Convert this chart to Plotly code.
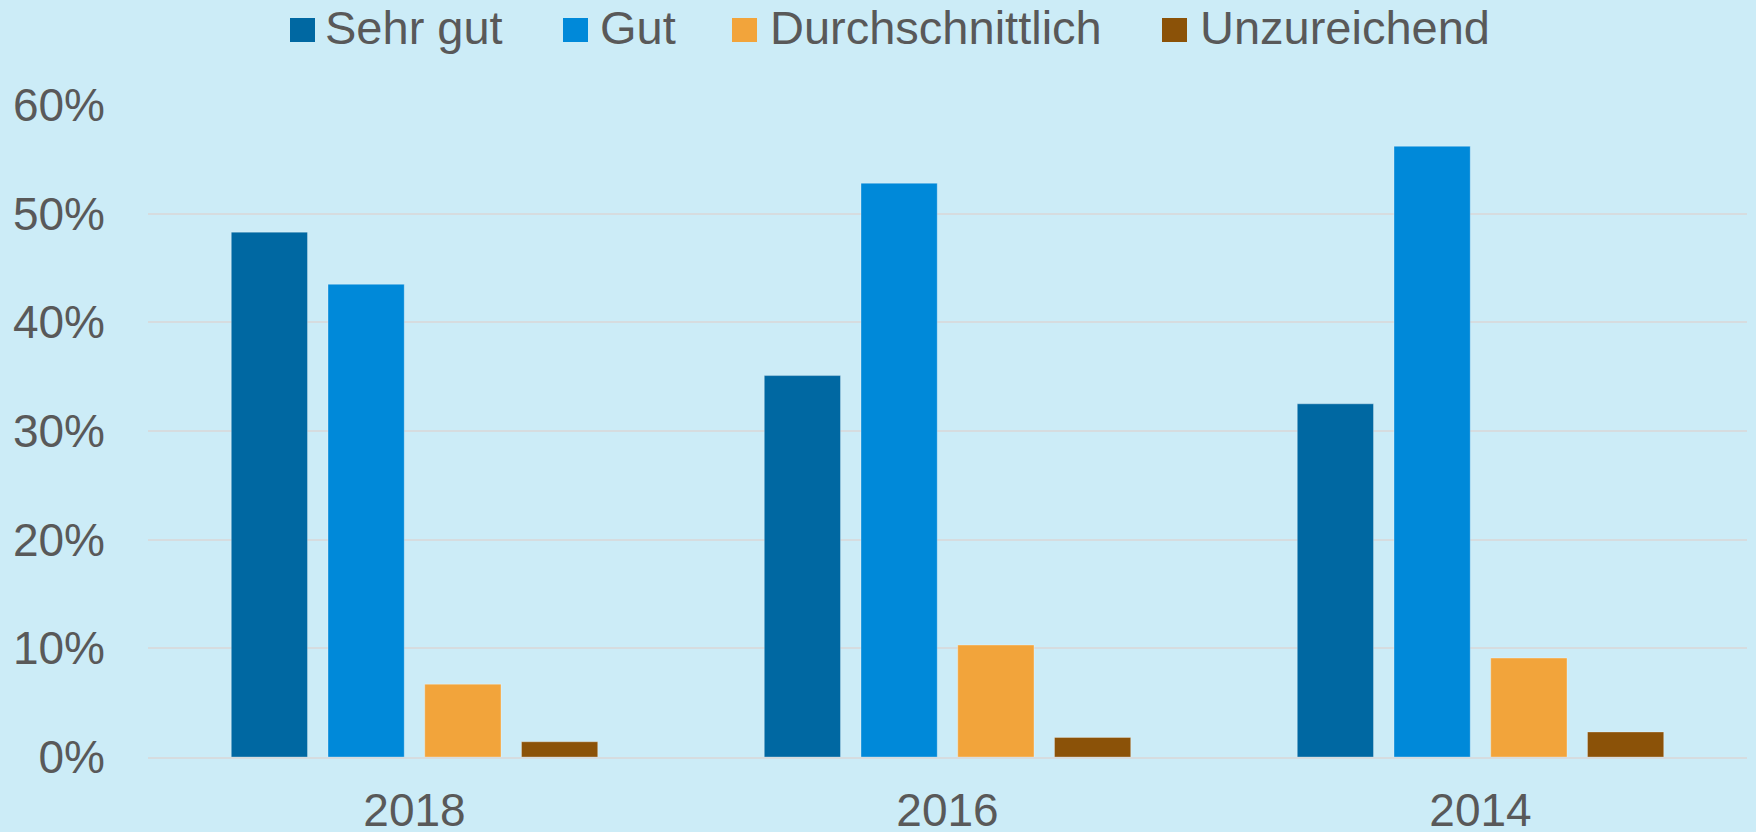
import plotly.graph_objects as go

# ---- data ----
years = ["2018", "2016", "2014"]
series_names = ["Sehr gut", "Gut", "Durchschnittlich", "Unzureichend"]
sehr_gut = [0.483, 0.351, 0.325]
gut = [0.435, 0.528, 0.562]
durchschnittlich = [0.067, 0.103, 0.091]
unzureichend = [0.014, 0.018, 0.023]
y_ticks = [0, 0.1, 0.2, 0.3, 0.4, 0.5, 0.6]

colors = ["#0068A2", "#0089D9", "#F2A43B", "#8B5208"]
values = [sehr_gut, gut, durchschnittlich, unzureichend]

W, H = 1756, 832
ML, MR, MT, MB = 148, 9, 105, 75
PW, PH = W - ML - MR, H - MT - MB

def px_x(px):
    return (px - ML) / PW

def px_y(py):
    return (H - MB - py) / PH

fig = go.Figure()
for name, vals, col in zip(series_names, values, colors):
    fig.add_trace(go.Bar(
        x=years, y=vals, name=name,
        marker=dict(color=col, line=dict(color="rgba(255,255,255,0.3)", width=1)),
        showlegend=False,
    ))

# custom legend (large square swatches)
legend_sq = [(290, 315), (563, 588), (732, 757), (1162, 1187)]
legend_tx = [323, 598, 768, 1198]
shapes = []
annotations = []
for (x0, x1), tx, name, col in zip(legend_sq, legend_tx, series_names, colors):
    shapes.append(dict(type="rect", xref="paper", yref="paper",
                       x0=px_x(x0), x1=px_x(x1), y0=px_y(42), y1=px_y(18),
                       fillcolor=col, line=dict(width=0), layer="above"))
    annotations.append(dict(text=name, xref="paper", yref="paper",
                            x=px_x(tx), y=px_y(28), xanchor="left", yanchor="middle",
                            showarrow=False,
                            font=dict(family="Liberation Sans, Arial, sans-serif",
                                      size=47, color="#595959")))

fig.update_layout(
    width=W, height=H,
    margin=dict(l=ML, r=MR, t=MT, b=MB, autoexpand=False),
    paper_bgcolor="#CCECF7",
    plot_bgcolor="#CCECF7",
    barmode="group",
    bargap=0.274,
    bargroupgap=0.212,
    font=dict(family="Liberation Sans, Arial, sans-serif", size=46, color="#595959"),
    shapes=shapes,
    annotations=annotations,
    showlegend=False,
)
fig.update_xaxes(
    showgrid=False, zeroline=False, showline=True, linecolor="#D6DCDF", linewidth=2,
    ticks="", ticklabelstandoff=12,
    tickfont=dict(size=46, color="#595959"),
)
fig.update_yaxes(
    range=[0, 0.6], tickvals=y_ticks, tickformat=".0%",
    showgrid=True, gridcolor="#D6DCDF", gridwidth=2,
    zeroline=False, showline=False, ticks="", ticklabelstandoff=42,
    tickfont=dict(size=46, color="#595959"),
)

fig.write_html(
    "out.html",
    config={"displayModeBar": False},
    post_script="document.body.style.margin='0px';document.body.style.overflow='hidden';",
)
